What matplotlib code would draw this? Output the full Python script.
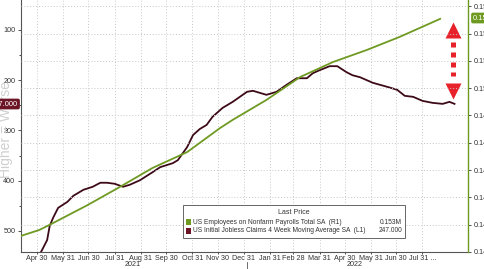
import pandas as pd
import matplotlib.pyplot as plt
from matplotlib.patches import Rectangle

# === DATA ===
payroll_dates = ['2021-04-11', '2021-05-03', '2021-05-19', '2021-06-29', '2021-08-06',
                 '2021-09-14', '2021-10-25', '2021-12-03', '2021-12-18', '2022-01-27',
                 '2022-03-08', '2022-04-16', '2022-05-26', '2022-07-04', '2022-08-21']
payroll_vals = [0.14459, 0.14481, 0.14506, 0.14572, 0.14638,
                0.14708, 0.14766, 0.14854, 0.14884, 0.14957,
                0.15041, 0.15096, 0.15140, 0.15188, 0.15254]

claims_dates = ['2021-05-01', '2021-05-12', '2021-05-15', '2021-05-19', '2021-05-25',
                '2021-06-05', '2021-06-12', '2021-06-24', '2021-07-05', '2021-07-14',
                '2021-07-22', '2021-07-31', '2021-08-10', '2021-08-18', '2021-08-30',
                '2021-09-14', '2021-09-23', '2021-10-08', '2021-10-14', '2021-10-25',
                '2021-11-01', '2021-11-09', '2021-11-17', '2021-11-24', '2021-12-06',
                '2021-12-18', '2022-01-04', '2022-01-11', '2022-01-27', '2022-02-08',
                '2022-02-20', '2022-03-04', '2022-03-16', '2022-03-23', '2022-03-31',
                '2022-04-12', '2022-04-21', '2022-05-02', '2022-05-09', '2022-05-18',
                '2022-06-02', '2022-06-19', '2022-07-01', '2022-07-10', '2022-07-20',
                '2022-07-31', '2022-08-12', '2022-08-24', '2022-09-01', '2022-09-07']
claims_vals = [554, 518, 490, 474, 454,
               442, 430, 418, 412, 404,
               404, 406, 412, 408, 399,
               383, 373, 365, 359, 333,
               309, 297, 289, 273, 255,
               243, 223, 221, 229, 223,
               209, 196, 196, 186, 180,
               172, 172, 184, 190, 194,
               205, 213, 219, 231, 233,
               241, 245, 247, 243, 247]

tick_dates = ['2021-04-30', '2021-05-31', '2021-06-30', '2021-07-31', '2021-08-31',
              '2021-09-30', '2021-10-31', '2021-11-30', '2021-12-31', '2022-01-31',
              '2022-02-28', '2022-03-31', '2022-04-30', '2022-05-31', '2022-06-30',
              '2022-07-31']
tick_labels = ['Apr 30', 'May 31', 'Jun 30', 'Jul 31', 'Aug 31', 'Sep 30', 'Oct 31',
               'Nov 30', 'Dec 31', 'Jan 31', 'Feb 28', 'Mar 31', 'Apr 30', 'May 31',
               'Jun 30', 'Jul 31 ...']

right_ticks = [0.144, 0.145, 0.146, 0.147, 0.148, 0.149, 0.150, 0.151, 0.152, 0.153]
left_ticks = [100, 200, 300, 400, 500]

GREEN = '#6f9a22'
MAROON = '#3d0a18'
BADGE_RED = '#6b1526'
TXT = '#333333'

plt.rcParams['font.family'] = 'Liberation Sans'

W, H = 485, 269
fig = plt.figure(figsize=(W / 100, H / 100), dpi=100)
L, R, T, B = 21, 468, 0, 252

# faded axis title on the left edge (drawn first so it sits behind)
fig.text(-1 / W, 1 - 178 / H, 'Higher = Worse', rotation=90, rotation_mode='anchor',
         ha='left', va='top', fontsize=10, color='#cfcfcf')

ax = fig.add_axes([L / W, 1 - B / H, (R - L) / W, (B - T) / H])
ax.patch.set_alpha(0)
ax2 = ax.twinx()

# left axis - claims (inverted)
ax.plot(pd.to_datetime(claims_dates), claims_vals, color=MAROON, lw=1.3, zorder=3)
ax.set_ylim(541.8, 40.3)
ax.set_yticks(left_ticks)
ax.set_yticks([150, 250, 350, 450], minor=True)
ax.set_xlim(pd.Timestamp('2021-04-11'), pd.Timestamp('2022-09-23'))

# right axis - payrolls
ax2.plot(pd.to_datetime(payroll_dates), payroll_vals, color=GREEN, lw=1.3, zorder=3)
ax2.set_ylim(0.144, 0.144 + 252 / 27300)
ax2.set_yticks(right_ticks)
ax2.set_yticklabels([f'{v:.3f}' for v in right_ticks])

ax.set_xticks(pd.to_datetime(tick_dates))
ax.set_xticklabels(tick_labels)

for a in (ax, ax2):
    a.tick_params(labelsize=5.2, colors=TXT, length=2.5, width=0.6, pad=1.5)
    a.tick_params(which='minor', length=1.5, width=0.5)
    for s in a.spines.values():
        s.set_visible(False)
ax.spines['left'].set_visible(True)
ax.spines['left'].set_color('#555555')
ax.spines['bottom'].set_visible(True)
ax.spines['bottom'].set_color('#555555')
ax2.spines['right'].set_visible(True)
ax2.spines['right'].set_color(GREEN)
ax2.spines['right'].set_linewidth(1.0)
ax.tick_params(axis='x', length=1.5, pad=0.8)

# grid: horizontal from right axis, vertical at month ends
ax2.grid(axis='y', color='#c8c8c8', ls=(0, (1, 2)), lw=0.7)
ax.grid(axis='x', color='#c8c8c8', ls=(0, (1, 2)), lw=0.7)
ax.set_axisbelow(True)
ax2.set_axisbelow(True)

# year labels and separator
for yr, d in [('2021', '2021-08-21'), ('2022', '2022-05-12')]:
    ax.text(pd.Timestamp(d), -12 / 252, yr, transform=ax.get_xaxis_transform(),
            ha='center', va='center', fontsize=5.2, color=TXT, clip_on=False)
ax.plot([pd.Timestamp('2022-01-04')] * 2, [-10 / 252, -17 / 252],
        transform=ax.get_xaxis_transform(), color='#555555', lw=0.6, clip_on=False)

# red dotted double arrow
ax_x = (453 - L) / (R - L)
ax.plot([ax_x, ax_x], [1 - 42 / 252, 1 - 76 / 252], transform=ax.transAxes,
        color='#e8222b', lw=3.6, ls=(0, (1, 1)), solid_capstyle='butt', zorder=5)
ax.plot([ax_x], [1 - 30 / 252], transform=ax.transAxes, marker='^', ms=11,
        color='#e8222b', mec='none', zorder=5)
ax.plot([ax_x], [1 - 91 / 252], transform=ax.transAxes, marker='v', ms=11,
        color='#e8222b', mec='none', zorder=5)

# last value badges
fig.text(18 / W, 1 - 104 / H, '247.000', ha='right', va='center', fontsize=5.4,
         color='white', bbox=dict(boxstyle='round,pad=0.25', fc=BADGE_RED, ec='none'))
fig.text(473 / W, 1 - 18 / H, '0.153M', ha='left', va='center', fontsize=5.4,
         color='white', bbox=dict(boxstyle='round,pad=0.25', fc=GREEN, ec='none'))

# legend box
lx0, lx1, ly0, ly1 = 183, 405, 205, 238
fig.add_artist(Rectangle((lx0 / W, 1 - ly1 / H), (lx1 - lx0) / W, (ly1 - ly0) / H,
                         transform=fig.transFigure, fc='white', ec='#666666', lw=0.7))
fig.text((lx0 + lx1) / 2 / W, 1 - 213 / H, 'Last Price', ha='center', va='center',
         fontsize=5, color=TXT)
rows = [(GREEN, 'US Employees on Nonfarm Payrolls Total SA  (R1)', '0.153M'),
        (BADGE_RED, 'US Initial Jobless Claims 4 Week Moving Average SA  (L1)', '247.000')]
for i, (c, name, val) in enumerate(rows):
    yy = 222 + i * 9
    fig.add_artist(Rectangle((186 / W, 1 - (yy + 3) / H), 5 / W, 6 / H,
                             transform=fig.transFigure, fc=c, ec='none'))
    fig.text(193 / W, 1 - yy / H, name, ha='left', va='center', fontsize=4.8, color=TXT)
    fig.text(402 / W, 1 - yy / H, val, ha='right', va='center', fontsize=4.8, color=TXT)

fig.savefig('out.png', dpi=100)
